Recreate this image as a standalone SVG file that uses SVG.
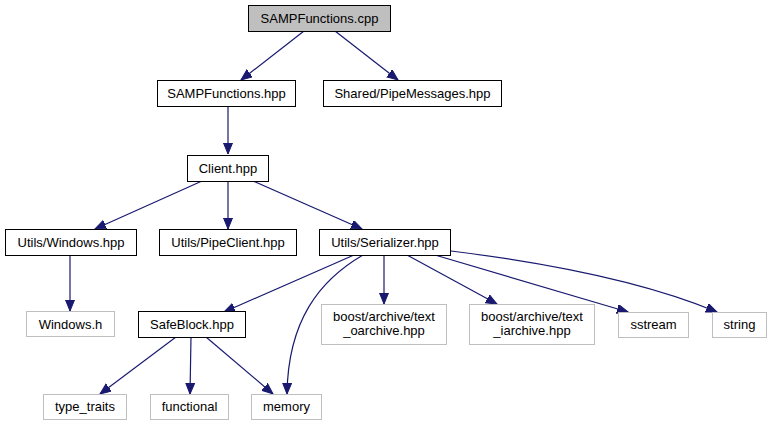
<svg xmlns="http://www.w3.org/2000/svg" width="773" height="425" viewBox="0 0 773 425">
<style>
.n rect{fill:#fff;stroke:#000;stroke-width:1}
.x rect{fill:#fff;stroke:#bfbfbf;stroke-width:1}
.r rect{fill:#bfbfbf;stroke:#000;stroke-width:1}
text{font-family:"Liberation Sans",Arial,sans-serif;font-size:13px;fill:#000;text-anchor:middle}
.e path{fill:none;stroke:#191970;stroke-width:1.2;marker-end:url(#a)}
</style>
<defs>
<marker id="a" markerUnits="userSpaceOnUse" markerWidth="12" markerHeight="10" refX="11" refY="4.5" orient="auto">
<path d="M0,0 L11,4.5 L0,9 z" fill="#191970" stroke="#191970" stroke-width="1"/>
</marker>
</defs>
<rect width="773" height="425" fill="#fff"/>
<g class="e">
<path d="M304,31 L241,80"/>
<path d="M335,31 L398,80"/>
<path d="M228,106 L228,154"/>
<path d="M202,181 L95,229"/>
<path d="M228,181 L228,229"/>
<path d="M253,181 L362,229"/>
<path d="M70,255 L70,311"/>
<path d="M354,255 L224,312"/>
<path d="M363,255 C320,280 288,320 287,394"/>
<path d="M384,255 L384,304"/>
<path d="M407,255 L497,304"/>
<path d="M435,255 L628,312"/>
<path d="M451,251 C540,262 640,280 717,312"/>
<path d="M176,337 L100,394"/>
<path d="M191,337 L190,394"/>
<path d="M206,337 L273,394"/>
</g>
<g id="n_cpp" class="r"><rect x="248.5" y="5.5" width="142" height="26"/><text x="319.5" y="23">SAMPFunctions.cpp</text></g>
<g id="n_samphpp" class="n"><rect x="157.5" y="80.5" width="138" height="26"/><text x="226.5" y="98">SAMPFunctions.hpp</text></g>
<g id="n_pipemsg" class="n"><rect x="323.5" y="80.5" width="178" height="26"/><text x="412.5" y="98">Shared/PipeMessages.hpp</text></g>
<g id="n_client" class="n"><rect x="187.5" y="155.5" width="81" height="26"/><text x="228" y="173">Client.hpp</text></g>
<g id="n_windows" class="n"><rect x="5.5" y="229.5" width="131" height="26"/><text x="71" y="247">Utils/Windows.hpp</text></g>
<g id="n_pipeclient" class="n"><rect x="159.5" y="229.5" width="137" height="26"/><text x="228" y="247">Utils/PipeClient.hpp</text></g>
<g id="n_serializer" class="n"><rect x="319.5" y="229.5" width="131" height="26"/><text x="385" y="247">Utils/Serializer.hpp</text></g>
<g id="n_windowsh" class="x"><rect x="26.5" y="311.5" width="88" height="25"/><text x="70.5" y="328.5">Windows.h</text></g>
<g id="n_safeblock" class="n"><rect x="138.5" y="311.5" width="107" height="26"/><text x="192" y="329">SafeBlock.hpp</text></g>
<g id="n_oarchive" class="x"><rect x="321.5" y="304.5" width="125" height="40"/><text x="384" y="321">boost/archive/text</text><text x="384" y="335">_oarchive.hpp</text></g>
<g id="n_iarchive" class="x"><rect x="469.5" y="304.5" width="125" height="40"/><text x="532" y="321">boost/archive/text</text><text x="532" y="335">_iarchive.hpp</text></g>
<g id="n_sstream" class="x"><rect x="618.5" y="312.5" width="70" height="25"/><text x="653.5" y="329">sstream</text></g>
<g id="n_string" class="x"><rect x="712.5" y="312.5" width="54" height="25"/><text x="739.5" y="329">string</text></g>
<g id="n_typetraits" class="x"><rect x="43.5" y="394.5" width="83" height="25"/><text x="85" y="411">type_traits</text></g>
<g id="n_functional" class="x"><rect x="150.5" y="394.5" width="78" height="25"/><text x="189.5" y="411">functional</text></g>
<g id="n_memory" class="x"><rect x="251.5" y="394.5" width="70" height="25"/><text x="286.5" y="411">memory</text></g>
</svg>
